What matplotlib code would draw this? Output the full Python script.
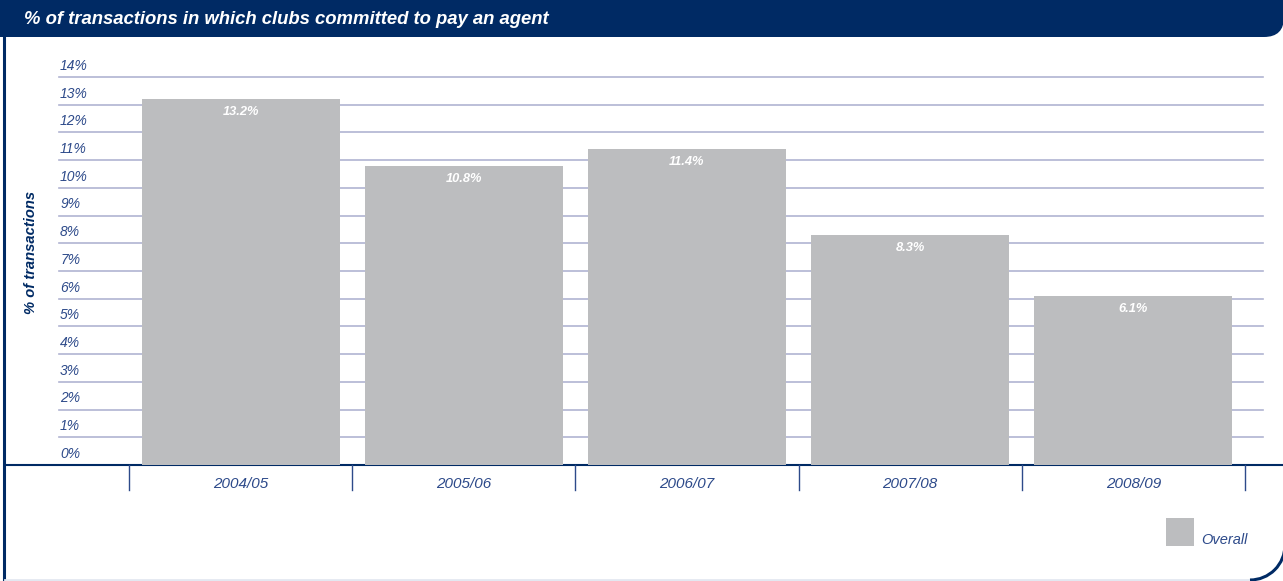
import matplotlib
matplotlib.use("Agg")
import matplotlib.pyplot as plt
from matplotlib.patches import FancyBboxPatch, Rectangle, Arc

categories = ["2004/05", "2005/06", "2006/07", "2007/08", "2008/09"]
values = [13.2, 10.8, 11.4, 8.3, 6.1]
value_labels = ["13.2%", "10.8%", "11.4%", "8.3%", "6.1%"]
yticks = list(range(0, 15))
ytick_labels = [f"{v}%" for v in yticks]
title = "% of transactions in which clubs committed to pay an agent"
ylabel = "% of transactions"
legend_label = "Overall"

W, H = 1283, 581
NAVY = "#002a64"
TEXT = "#2d4a8a"
BAR = "#bcbdbf"
GRID = "#b0b4d2"

fig = plt.figure(figsize=(W / 100, H / 100), dpi=100)
fig.patch.set_facecolor("white")

# decoration axes in pixel units
deco = fig.add_axes([0, 0, 1, 1])
deco.set_xlim(0, W)
deco.set_ylim(H, 0)
deco.axis("off")

# outer frame: left border, faint bottom, rounded bottom-right corner
deco.plot([4, 4], [20, 581], color=NAVY, lw=2.2, zorder=2, solid_capstyle="butt")
deco.plot([5, 1250], [580, 580], color="#e3e8f1", lw=2, zorder=2)
deco.add_patch(Arc((1250, 545), 70, 70, theta1=0, theta2=90, color=NAVY, lw=2.2, zorder=2))

# header
header = FancyBboxPatch((-40, -40), W + 1 + 40, 77, boxstyle="round,pad=0,rounding_size=20",
                        fc=NAVY, ec="none", zorder=3)
deco.add_patch(header)
deco.text(24, 19, title, color="white", fontsize=13.3, fontweight="bold", fontstyle="italic",
          va="center", ha="left", family="Liberation Sans", zorder=4)

# y label
deco.text(31, 252, ylabel, color=NAVY, fontsize=10.6, fontweight="bold", fontstyle="italic",
          rotation=90, va="center", ha="center", family="Liberation Sans")

# legend
deco.add_patch(Rectangle((1166, 518), 28, 28, fc=BAR, ec="none"))
deco.text(1201, 540, legend_label, color=TEXT, fontsize=10.5, fontstyle="italic",
          va="center", ha="left", family="Liberation Sans")

# baseline
deco.plot([5, W], [465, 465], color=NAVY, lw=1.5, zorder=5)

# data axes
x_left, x_right = 59, 1263
y_bottom, y_top = 465, 77
ax = fig.add_axes([x_left / W, 1 - y_bottom / H, (x_right - x_left) / W, (y_bottom - y_top) / H])
ax.patch.set_alpha(0)
step = 223.3
x0 = -0.5 - (129 - x_left) / step
x1 = 4.5 + (x_right - 1245) / step
ax.set_xlim(x0, x1)
ax.set_ylim(0, 14)
for s in ax.spines.values():
    s.set_visible(False)
ax.set_xticks([])
ax.set_yticks([])

for v in yticks[1:]:
    ax.axhline(v, color=GRID, lw=1.2, zorder=1, clip_on=False)
for v, lab in zip(yticks, ytick_labels):
    ax.text(x0 + 0.005, v + 0.4, lab, color=TEXT, fontsize=10, fontstyle="italic",
            va="center", ha="left", family="Liberation Sans")

xs = list(range(len(categories)))
ax.bar(xs, values, width=0.887, color=BAR, zorder=2)
for x, v, lab in zip(xs, values, value_labels):
    ax.text(x, v - 0.48, lab, color="white", fontsize=9.3, fontstyle="italic", fontweight="bold",
            ha="center", va="center", family="Liberation Sans", zorder=3)

# category separators and labels
for b in [i - 0.5 for i in range(len(categories) + 1)]:
    ax.plot([b, b], [0, -0.9], color=TEXT, lw=1, clip_on=False, zorder=4)
for x, c in zip(xs, categories):
    ax.text(x, -0.7, c, color=TEXT, fontsize=11, fontstyle="italic", ha="center", va="center",
            family="Liberation Sans")

fig.savefig("out.png", dpi=100)
